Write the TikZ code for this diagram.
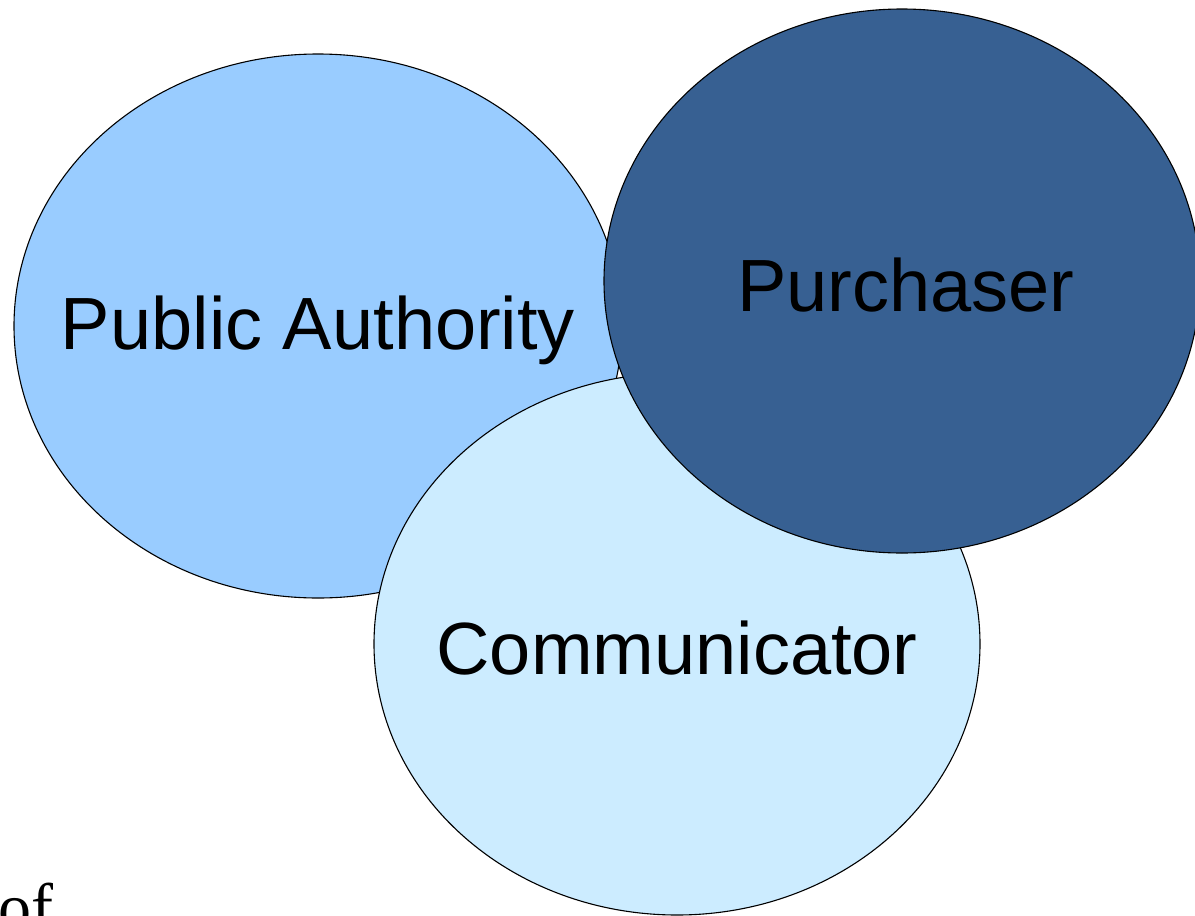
\documentclass[tikz,border=0pt]{standalone}
\usepackage{fontspec}
\setmainfont{Liberation Sans}
\newfontfamily\ofserif{Liberation Serif}
\definecolor{paBlue}{HTML}{99CCFF}
\definecolor{comBlue}{HTML}{CCECFF}
\definecolor{purBlue}{HTML}{376092}
\tikzset{
	role/.style={draw=black, line width=1.1pt},
	rolelabel/.style={inner sep=0pt, font=\fontsize{74}{80}\selectfont}
}

\begin{document}
\begin{tikzpicture}[x=1pt, y=-1pt]
			%%%%% START %%%%%
			\useasboundingbox (0, 0) rectangle (1195, 916);
			
			\draw[role, fill=paBlue] (318, 326) ellipse (304 and 272);
			\node[rolelabel] (pubauth) at (318, 330) {Public Authority};
			
			\draw[role, fill=comBlue] (677, 644) ellipse (303 and 271);
			\node[rolelabel] (commun) at (677, 648) {Communicator};
			
			\draw[role, fill=purBlue] (902, 281) ellipse (298 and 272);
			\node[rolelabel] (purch) at (906, 285) {Purchaser};
			
			\node[anchor=base west, inner sep=0pt, font=\ofserif\fontsize{66}{70}\selectfont] (oftext) at (-2, 929) {of};
			%%%%% END %%%%%
		\end{tikzpicture}
\end{document}
